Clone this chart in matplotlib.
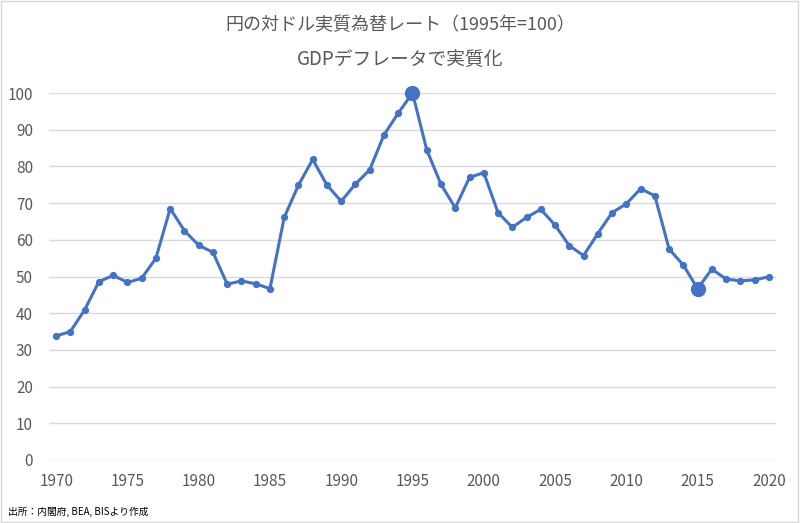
import matplotlib
matplotlib.use("Agg")
import matplotlib.pyplot as plt
from matplotlib.patches import Rectangle

plt.rcParams['font.family'] = ['Noto Sans CJK JP', 'DejaVu Sans']

years = list(range(1970, 2021))
values = [33.8, 35.0, 40.9, 48.6, 50.3, 48.4, 49.5, 55.0, 68.5, 62.5,
          58.5, 56.6, 47.9, 48.8, 48.0, 46.7, 66.1, 74.9, 81.9, 74.9,
          70.5, 75.2, 79.1, 88.6, 94.5, 100.0, 84.5, 75.1, 68.7, 77.0,
          78.3, 67.4, 63.4, 66.1, 68.3, 64.0, 58.4, 55.7, 61.7, 67.4,
          69.8, 73.9, 72.0, 57.5, 53.1, 46.7, 52.0, 49.3, 48.8, 49.1,
          49.9]
highlight_years = [1995, 2015]
x_ticks = list(range(1970, 2021, 5))
y_ticks = list(range(0, 101, 10))

title = "円の対ドル実質為替レート（1995年=100）"
subtitle = "GDPデフレータで実質化"
source = "出所：内閣府, BEA, BISより作成"

color = "#4472C4"
txt = "#595959"

fig = plt.figure(figsize=(8, 5.23), dpi=100)
ax = fig.add_axes([49/800, 1 - 460/523, 727/800, 367/523])

ax.plot(years, values, color=color, lw=2.2, marker='o', ms=4.2,
        clip_on=False, zorder=3, solid_joinstyle='round')
hx = [y for y in highlight_years]
hy = [values[years.index(y)] for y in highlight_years]
ax.plot(hx, hy, ls='none', marker='o', ms=10, color=color, clip_on=False, zorder=4)

ax.set_xlim(1969.5, 2020.5)
ax.set_ylim(0, 100)
ax.set_xticks(x_ticks)
ax.set_yticks(y_ticks)
ax.grid(axis='y', color='#D9D9D9', lw=1)
ax.set_axisbelow(True)
for s in ax.spines.values():
    s.set_visible(False)
ax.tick_params(length=0, labelsize=11, labelcolor=txt)
ax.tick_params(axis='x', pad=9)
ax.tick_params(axis='y', pad=11.5)

fig.text(0.5, 1 - 25/523, title, ha='center', va='center', fontsize=13, color=txt)
fig.text(0.5, 1 - 59/523, subtitle, ha='center', va='center', fontsize=13.5, color=txt)
fig.text(8/800, 1 - 512/523, source, ha='left', va='center', fontsize=7, color='black')

fig.add_artist(Rectangle((0.001, 0.001), 0.997, 0.997, transform=fig.transFigure,
                         fill=False, edgecolor='#D9D9D9', lw=1))

fig.savefig("out.png", dpi=100)
